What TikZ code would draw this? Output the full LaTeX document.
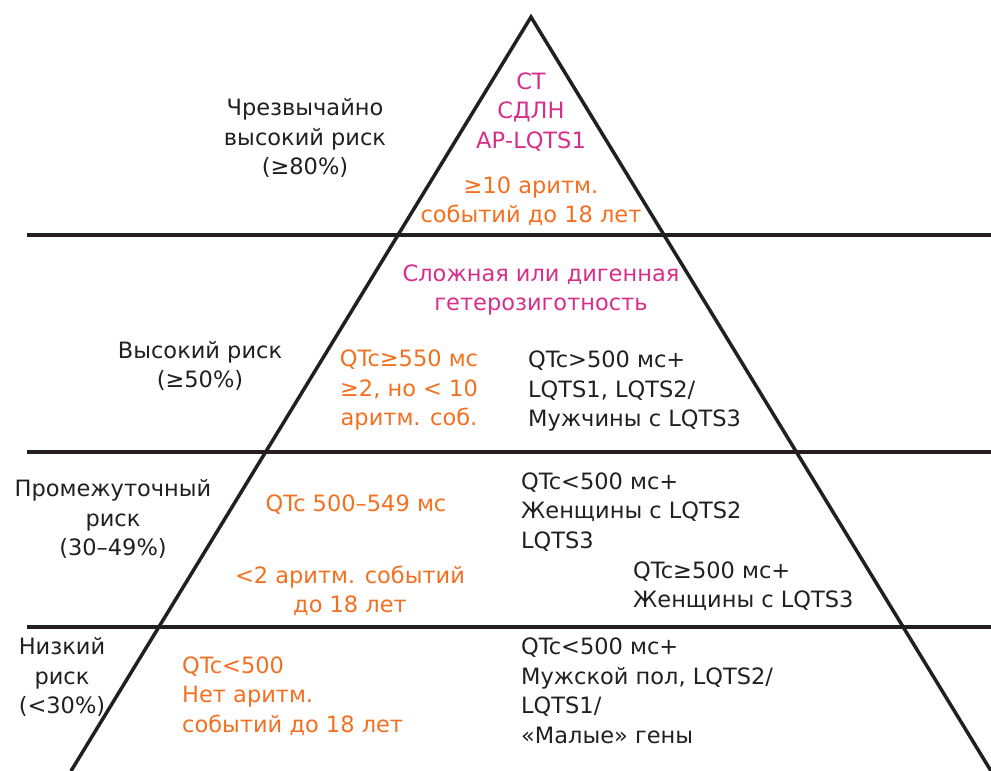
\documentclass[tikz,border=0pt]{standalone}
\usepackage{fontspec}
\setmainfont{DejaVu Sans}
\definecolor{ink}{HTML}{231F20}
\definecolor{magen}{HTML}{D62E8A}
\definecolor{orng}{HTML}{F37021}
\begin{document}
\begin{tikzpicture}[x=1pt,y=-1pt,
  txt/.style={inner sep=0pt, font=\fontsize{22.5}{29.5}\selectfont, text=ink},
  ctr/.style={txt, align=center},
  lft/.style={txt, align=left, anchor=west},
  mg/.style={text=magen},
  og/.style={text=orng},
  rule/.style={draw=ink, line width=3.5pt}]
\useasboundingbox (0,0) rectangle (991,771);
\coordinate (apex) at (531,17);
\coordinate (bl) at (71,771);
\coordinate (br) at (991,771);
\draw[rule, line join=miter] (bl) -- (apex) -- (br);
\coordinate (h1a) at (27,235); \coordinate (h1b) at (991,235);
\coordinate (h2a) at (27,452); \coordinate (h2b) at (991,452);
\coordinate (h3a) at (27,627); \coordinate (h3b) at (991,627);
\draw[rule] (h1a) -- (h1b);
\draw[rule] (h2a) -- (h2b);
\draw[rule] (h3a) -- (h3b);

\node[ctr] (l1) at (305,138) {Чрезвычайно\\высокий риск\\(≥80\%)};
\node[ctr,mg] (m1) at (531,112) {СТ\\СДЛН\\АР-LQTS1};
\node[ctr,og] (o1) at (531,201) {≥10 аритм.\\событий до 18 лет};

\node[ctr,mg] (m2) at (541,290) {Сложная или дигенная\\гетерозиготность};
\node[ctr] (l2) at (200,366) {Высокий риск\\(≥50\%)};
\node[ctr,og] (o2) at (409,390) {QTc≥550 мс\\≥2, но < 10\\аритм. соб.};
\node[lft] (b2) at (528,391) {QTc>500 мс+\\LQTS1, LQTS2/\\Мужчины с LQTS3};

\node[ctr] (l3) at (113,519) {Промежуточный\\риск\\(30–49\%)};
\node[ctr,og] (o3a) at (356,505) {QTc 500–549 мс};
\node[ctr,og] (o3b) at (350,591) {<2 аритм. событий\\до 18 лет};
\node[lft] (b3a) at (521,512) {QTc<500 мс+\\Женщины с LQTS2\\LQTS3};
\node[lft] (b3b) at (633,586) {QTc≥500 мс+\\Женщины с LQTS3};

\node[ctr] (l4) at (62,677) {Низкий\\риск\\(<30\%)};
\node[lft,og] (o4) at (182,696) {QTc<500\\Нет аритм.\\событий до 18 лет};
\node[lft] (b4) at (521,691) {QTc<500 мс+\\Мужской пол, LQTS2/\\LQTS1/\\«Малые» гены};
\end{tikzpicture}
\end{document}
